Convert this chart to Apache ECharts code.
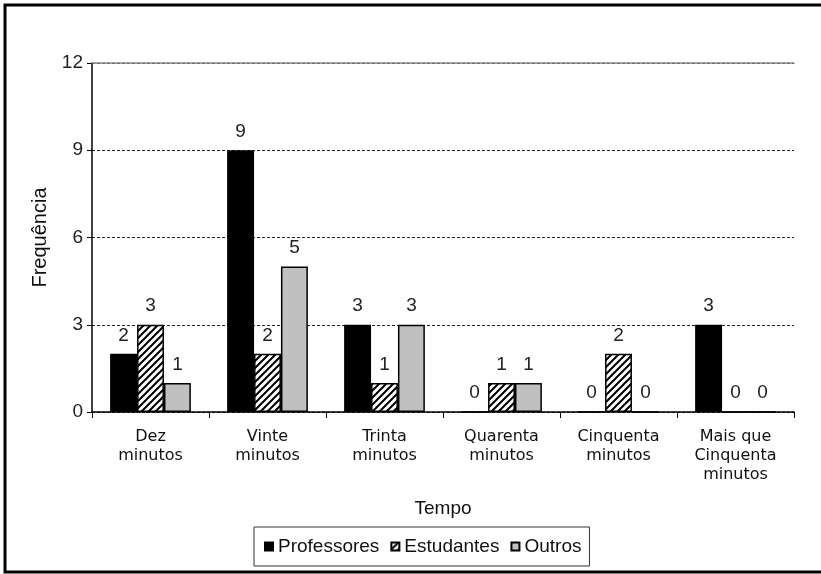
<!DOCTYPE html>
<html>
<head>
<meta charset="utf-8">
<script src="https://cdn.jsdelivr.net/npm/echarts@6/dist/echarts.min.js"></script>
<style>
  html, body { margin: 0; padding: 0; background: #fff; }
  #chart-container { width: 821px; height: 574px; }
</style>
</head>
<body>
<div id="chart-container"></div>
<script>
var categories = [
  'Dez\nminutos', 'Vinte\nminutos', 'Trinta\nminutos',
  'Quarenta\nminutos', 'Cinquenta\nminutos', 'Mais que\nCinquenta\nminutos'
];
var professores = [2, 9, 3, 0, 0, 3];
var estudantes = [3, 2, 1, 1, 2, 0];
var outros = [1, 5, 3, 1, 0, 0];
var yTicks = [0, 3, 6, 9, 12];

// hatch pattern for Estudantes
function makeHatch() {
  var c = document.createElement('canvas');
  c.width = 7; c.height = 7;
  var ctx = c.getContext('2d');
  ctx.fillStyle = '#fff';
  ctx.fillRect(0, 0, 7, 7);
  ctx.strokeStyle = '#000';
  ctx.lineWidth = 2;
  ctx.beginPath();
  ctx.moveTo(-1, 8); ctx.lineTo(8, -1);
  ctx.moveTo(-8, 8); ctx.lineTo(1, -1);
  ctx.moveTo(6, 8); ctx.lineTo(15, -1);
  ctx.stroke();
  return c;
}

var dom = document.getElementById('chart-container');
var myChart = echarts.init(dom);

var arial = 'Liberation Sans, Arial, sans-serif';

var labelStyle = {
  show: true,
  position: 'top',
  distance: 9,
  fontFamily: arial,
  fontSize: 19,
  color: '#222'
};

function barSeries(name, data, color) {
  return {
    name: name,
    type: 'bar',
    data: data,
    barGap: 0,
    barCategoryGap: '31%',
    itemStyle: { color: color, borderColor: '#000', borderWidth: 1.5 },
    label: labelStyle
  };
}

var option = {
  animation: false,
  backgroundColor: '#fff',
  graphic: [{
    type: 'rect',
    shape: { x: 5, y: 5, width: 830, height: 567 },
    style: { fill: null, stroke: '#000', lineWidth: 3 }
  }],
  grid: { left: 92, right: 27, top: 63, bottom: 162 },
  legend: {
    bottom: 8,
    left: 254,
    itemWidth: 8,
    itemHeight: 8,
    itemGap: 11,
    padding: [10, 8, 10, 10],
    borderColor: '#333',
    borderWidth: 1,
    icon: 'rect',
    textStyle: { fontFamily: arial, fontSize: 19, color: '#111' },
    data: ['Professores', 'Estudantes', 'Outros']
  },
  xAxis: [{
    type: 'category',
    data: categories,
    name: 'Tempo',
    nameLocation: 'middle',
    nameGap: 87,
    nameTextStyle: { fontFamily: arial, fontSize: 19, color: '#111' },
    axisLine: { lineStyle: { color: '#000', width: 1.5 } },
    axisTick: { show: true, length: 6, lineStyle: { color: '#000' } },
    axisLabel: {
      margin: 15,
      interval: 0,
      lineHeight: 19,
      fontFamily: 'DejaVu Sans, Verdana, sans-serif',
      fontSize: 16,
      color: '#111'
    }
  }, {
    type: 'category',
    position: 'top',
    data: categories,
    z: 5,
    axisLine: { lineStyle: { color: '#888', width: 1.5 } },
    axisTick: { show: false },
    axisLabel: { show: false }
  }],
  yAxis: {
    type: 'value',
    min: yTicks[0],
    max: yTicks[yTicks.length - 1],
    interval: 3,
    name: 'Frequência',
    nameLocation: 'middle',
    nameGap: 32,
    nameTextStyle: { fontFamily: arial, fontSize: 20, color: '#111' },
    axisLine: { show: true, lineStyle: { color: '#000', width: 1.5 } },
    axisTick: { show: true, length: 5, lineStyle: { color: '#000' } },
    axisLabel: {
      margin: 9,
      fontFamily: arial,
      fontSize: 19,
      color: '#222'
    },
    splitLine: { lineStyle: { color: '#222', type: [3, 2], width: 1 } }
  },
  series: [
    barSeries('Professores', professores, '#000'),
    barSeries('Estudantes', estudantes, { image: makeHatch(), repeat: 'repeat' }),
    barSeries('Outros', outros, '#c0c0c0')
  ]
};

myChart.setOption(option);
</script>
</body>
</html>
